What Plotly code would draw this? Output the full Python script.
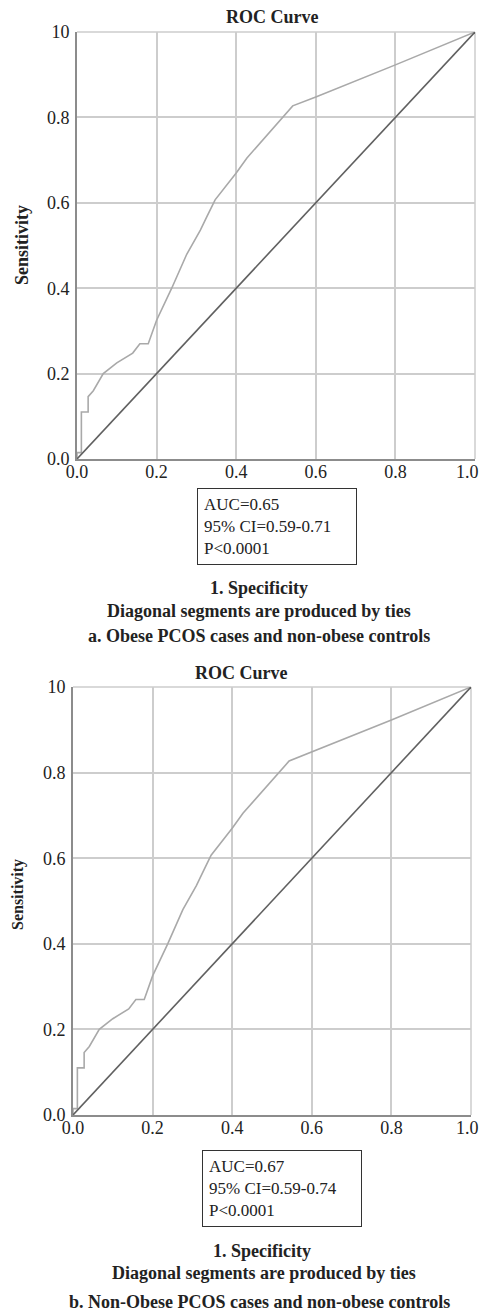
import plotly.graph_objects as go

# ---- data ----
fpr_a = [0, 0, 0.011, 0.011, 0.028, 0.028, 0.041, 0.066, 0.10, 0.14, 0.158, 0.179, 0.20, 0.238,
         0.276, 0.31, 0.326, 0.347, 0.40, 0.427, 0.542, 0.60, 0.80, 1.0]
tpr_a = [0, 0.015, 0.015, 0.11, 0.11, 0.146, 0.16, 0.20, 0.225, 0.248, 0.27, 0.27, 0.325, 0.40,
         0.48, 0.536, 0.567, 0.607, 0.67, 0.705, 0.827, 0.848, 0.923, 1.0]
fpr_b = [0, 0, 0.011, 0.011, 0.028, 0.028, 0.041, 0.066, 0.10, 0.14, 0.158, 0.179, 0.20, 0.238,
         0.276, 0.31, 0.326, 0.347, 0.40, 0.427, 0.543, 0.60, 0.80, 1.0]
tpr_b = [0, 0.015, 0.015, 0.11, 0.11, 0.146, 0.16, 0.20, 0.225, 0.248, 0.27, 0.27, 0.325, 0.40,
         0.48, 0.536, 0.567, 0.607, 0.67, 0.705, 0.827, 0.848, 0.923, 1.0]
ref_line = [0, 1]
tick_vals = [0, 0.2, 0.4, 0.6, 0.8, 1.0]
x_tick_text = ["0.0", "0.2", "0.4", "0.6", "0.8", "1.0"]
y_tick_text = ["0.0", "0.2", "0.4", "0.6", "0.8", "10"]
stats_a = ["AUC=0.65", "95% CI=0.59-0.71", "P<0.0001"]
stats_b = ["AUC=0.67", "95% CI=0.59-0.74", "P<0.0001"]
captions_a = ["1. Specificity", "Diagonal segments are produced by ties",
              "a. Obese PCOS cases and non-obese controls"]
captions_b = ["1. Specificity", "Diagonal segments are produced by ties",
              "b. Non-Obese PCOS cases and non-obese controls"]

W, H = 482, 1311
FONT = "Liberation Serif"
CURVE = "#a9a9a9"
DIAG = "#606060"
GRID = "#cdcdcd"
AXIS = "#8c8c8c"

def px_x(p):
    return p / W

def px_y(p):
    return 1 - p / H

fig = go.Figure()

fig.add_trace(go.Scatter(x=fpr_a, y=tpr_a, mode="lines", line=dict(color=CURVE, width=1.6),
                         xaxis="x", yaxis="y", showlegend=False, cliponaxis=False))
fig.add_trace(go.Scatter(x=ref_line, y=ref_line, mode="lines", line=dict(color=DIAG, width=1.6),
                         xaxis="x", yaxis="y", showlegend=False, cliponaxis=False))
fig.add_trace(go.Scatter(x=fpr_b, y=tpr_b, mode="lines", line=dict(color=CURVE, width=1.6),
                         xaxis="x2", yaxis="y2", showlegend=False, cliponaxis=False))
fig.add_trace(go.Scatter(x=ref_line, y=ref_line, mode="lines", line=dict(color=DIAG, width=1.6),
                         xaxis="x2", yaxis="y2", showlegend=False, cliponaxis=False))

axis_common = dict(range=[0, 1], tickmode="array", tickvals=tick_vals, showgrid=True,
                   gridcolor=GRID, gridwidth=1.5, zeroline=False, showline=True,
                   linecolor=AXIS, linewidth=2, ticks="", fixedrange=True, automargin=False,
                   tickfont=dict(family=FONT, size=18, color="#222"))

fig.update_layout(
    width=W, height=H, margin=dict(l=0, r=0, t=0, b=0),
    paper_bgcolor="white", plot_bgcolor="white",
    xaxis=dict(domain=[px_x(77), px_x(475)], anchor="y", ticktext=x_tick_text,
               ticklabelstandoff=-5, **axis_common),
    yaxis=dict(domain=[px_y(459), px_y(32)], anchor="x", ticktext=y_tick_text,
               ticklabelstandoff=2, **axis_common),
    xaxis2=dict(domain=[px_x(73), px_x(471)], anchor="y2", ticktext=x_tick_text,
                ticklabelstandoff=-5, **axis_common),
    yaxis2=dict(domain=[px_y(1115), px_y(687)], anchor="x2", ticktext=y_tick_text,
                ticklabelstandoff=2, **axis_common),
)

# frame on top/right drawn as light grid-like edges
for xr, yr, shift in [("x", "y", 6), ("x2", "y2", 10)]:
    fig.add_shape(type="line", xref=xr + " domain", yref=yr + " domain", x0=0, x1=1, y0=1, y1=1,
                  line=dict(color=GRID, width=1.5), layer="below")
    fig.add_shape(type="line", xref=xr + " domain", yref=yr + " domain", x0=1, x1=1, y0=0, y1=1,
                  line=dict(color=GRID, width=1.5), layer="below")
    # last x tick label sits at the page edge (plotly drops it), so draw it at its axis value
    fig.add_annotation(text=x_tick_text[-1], x=tick_vals[-1], xref=xr, y=0, yref=yr + " domain",
                       yanchor="top", xanchor="right", xshift=shift, yshift=-1, showarrow=False,
                       font=dict(family=FONT, size=18, color="#222"))

def ann(text, x, y, size, bold=False, **kw):
    t = f"<b>{text}</b>" if bold else text
    fig.add_annotation(text=t, x=px_x(x), y=px_y(y), xref="paper", yref="paper",
                       showarrow=False, xanchor=kw.pop("xanchor", "center"),
                       yanchor=kw.pop("yanchor", "middle"),
                       font=dict(family=FONT, size=size, color="#222"), **kw)

# titles
ann("ROC Curve", 272, 17, 18, bold=True)
ann("ROC Curve", 241, 673, 18, bold=True)

# y-axis labels
ann("Sensitivity", 22, 245, 18, bold=True, textangle=-90)
ann("Sensitivity", 18, 895, 16, bold=True, textangle=-90)

# stats boxes
for lines, cx, cy in [(stats_a, 277, 526.5), (stats_b, 282, 1188)]:
    fig.add_annotation(text="<br>".join(lines), x=px_x(cx), y=px_y(cy), xref="paper", yref="paper",
                       showarrow=False, xanchor="center", yanchor="middle", align="left",
                       width=146, borderpad=6, bordercolor="#333", borderwidth=1, bgcolor="white",
                       font=dict(family=FONT, size=17, color="#222"))

# captions
for text, x, y in zip(captions_a, [259, 259, 259], [588, 611, 636]):
    ann(text, x, y, 18, bold=True)
for text, x, y in zip(captions_b, [262, 264, 259], [1251, 1273, 1302]):
    ann(text, x, y, 18, bold=True)

fig.write_html("out.html", config={"displayModeBar": False},
               post_script="document.body.style.margin='0px';document.body.style.overflow='hidden';")
